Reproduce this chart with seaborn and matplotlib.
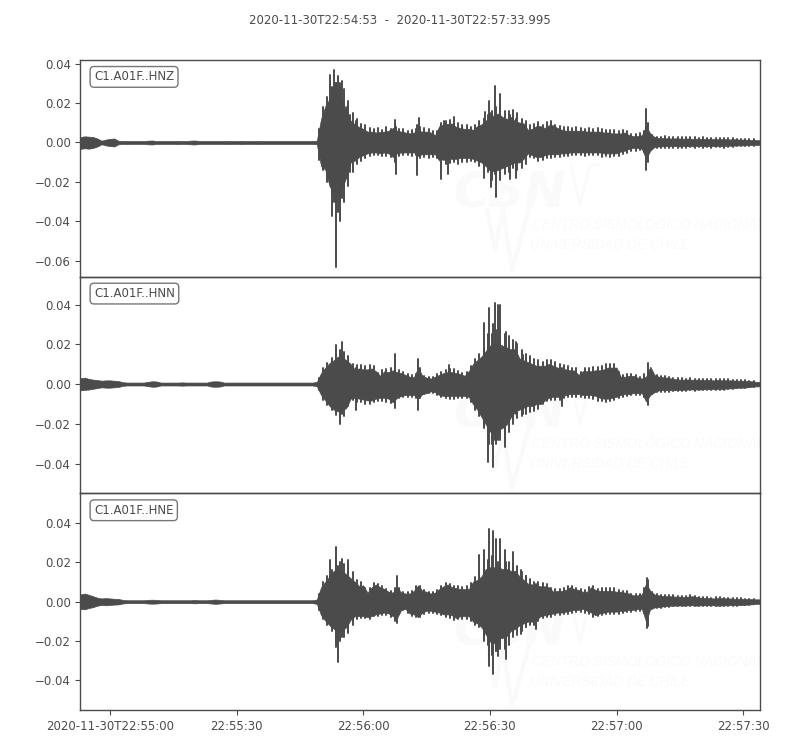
# Seismogram of three channels, drawn from envelopes
import numpy as np
import pandas as pd
import matplotlib
matplotlib.use("Agg")
import matplotlib.pyplot as plt
from matplotlib.lines import Line2D
import seaborn as sns

# Envelope per second since 22:54:53, in units of 0.001
hnz_up = [3.0,3.4,3.2,3.0,2.2,1.0,1.6,2.0,2.2,1.0,
          .8,.9,.8,.8,.8,.8,1.0,1.1,.8,.8,
          .8,.8,.8,.9,.8,.8,1.0,1.1,.9,.8,
          .8,.8,.8,.8,.8,.9,.8,.8,.9,.8,
          .8,.8,.9,.8,.8,.8,.8,.8,.8,.8,
          .8,.8,.8,.8,.8,.8,1.0,
          13,20,24,26,26,24,17,12,10,8.5,
          7.5,6,6,5.5,5.8,6,6.5,8,6.5,6,
          5.5,5,5.5,6.5,6,6,5.5,4,9,10,
          10,10.5,8.5,8,7.5,7.5,7,9,10,12,
          14,15,16,14,13,14,11.5,11,10.5,7,
          7.5,9,9,8,9.5,9.5,8,7,6.5,6.5,
          6.5,6.5,6.5,6,6,6,6,5.5,5.5,5,
          5,5,5.5,4,3.5,3.5,4,9,5,3,
          2.5,2.4,2.3,2.2,2.3,2.2,2.1,2.2,2,2.1,
          2,1.9,2,1.9,1.8,1.9,1.8,1.7,1.8,1.6,
          1.6,1.5,1.4,1.3,1.3]
hnz_lo = [-3.5,-3.2,-3.4,-3.0,-2.2,-1.0,-1.6,-2.0,-2.2,-1.0,
          -.8,-.9,-.8,-.8,-.8,-.8,-1.0,-1.1,-.8,-.8,
          -.8,-.8,-.8,-.9,-.8,-.8,-1.0,-1.1,-.9,-.8,
          -.8,-.8,-.8,-.8,-.8,-.9,-.8,-.8,-.9,-.8,
          -.8,-.8,-.9,-.8,-.8,-.8,-.8,-.8,-.8,-.8,
          -.8,-.8,-.8,-.8,-.8,-.8,-1.0,
          -13,-15,-24,-28,-28,-25,-19,-11,-10,-8,
          -7,-6,-5.5,-5.5,-6,-5.5,-6,-8,-6,-5.5,
          -5.5,-5.5,-5.5,-7,-6.5,-6.5,-6.5,-6.5,-10,-9,
          -9,-9,-9,-8.5,-8.5,-8.5,-9,-10,-11,-13,
          -15,-16,-15,-14,-13,-12,-11,-11,-9,-6,
          -7,-8,-8,-7,-6.5,-6.5,-6.5,-6,-6,-5.5,
          -5.5,-5.5,-5.5,-5.5,-5.5,-5.5,-5.5,-6,-6,-6,
          -6,-5,-4.5,-3.5,-3,-3,-3.5,-9,-4.5,-2.5,
          -2.2,-2.1,-2,-2.1,-2,-2.2,-2,-2,-2.1,-2,
          -2,-2.1,-2,-2,-1.9,-2.1,-1.8,-1.8,-1.7,-1.6,
          -1.6,-1.5,-1.4,-1.3,-1.3]

hnn_up = [3.2,3.5,2.8,2.4,2.2,1.8,2,2,1.8,1.6,
          1.0,.8,.8,.8,.8,.8,1.2,1.5,1.4,.8,
          .8,.8,.8,.8,.9,.8,.8,.8,.8,.8,
          .8,1.4,1.5,1.4,.8,.8,.8,.8,.8,.8,
          .8,.8,.8,.8,.8,.8,.8,.8,.8,.8,
          .8,.8,.8,.8,.8,.8,1.2,
          6,9,11.5,13,15,14.5,13,11,8,8.5,
          8,8,8.5,7,4.5,7,6.5,7.5,6.5,6,
          5,4,3.7,9,4.5,3.5,3,4,5,6,
          6.5,6.5,6,5.5,4.5,7,11,13,15,18,
          21,22,22,21,20,19,19,14,13,12,
          11,10,10,10,11,10,9,8.5,8,7.5,
          7.4,5,7,7,7,7.5,7.5,8,9,9,
          9,4,4,4.5,4.5,3.5,3,4,9.5,5,
          4,3.7,3.5,3,2.6,2.4,2.4,2.5,2.3,2.4,
          2.3,2.2,2.2,2,2.2,2,2.1,2,1.9,1.8,
          1.8,1.6,1.5,1.2,1.2]
hnn_lo = [-3.4,-3.2,-3,-2.6,-2.2,-1.8,-2,-2,-1.8,-1.6,
          -1.0,-.8,-.8,-.8,-.8,-.8,-1.2,-1.5,-1.4,-.8,
          -.8,-.8,-.8,-.8,-.9,-.8,-.8,-.8,-.8,-.8,
          -.8,-1.4,-1.5,-1.4,-.8,-.8,-.8,-.8,-.8,-.8,
          -.8,-.8,-.8,-.8,-.8,-.8,-.8,-.8,-.8,-.8,
          -.8,-.8,-.8,-.8,-.8,-.8,-1.2,
          -6,-9,-12,-14,-15,-14.5,-13,-8,-7.5,-8,
          -8.5,-9,-9,-8,-7.5,-7.5,-8,-10,-7.5,-6.5,
          -6,-6,-6,-8,-5.5,-5,-4,-4.5,-6,-6.5,
          -6.5,-6.5,-6.5,-6.5,-6.5,-7,-11,-14,-18,-22,
          -26,-26,-25,-24,-22,-18,-15,-14,-13,-12,
          -12,-11,-11,-9,-7.5,-7,-7,-7,-6,-5.5,
          -5.5,-5.5,-6,-6,-6,-6.5,-7.5,-8,-8,-7.5,
          -7,-6,-5.5,-5.5,-5,-5,-5,-9.5,-6,-4.5,
          -3.5,-3.4,-3.4,-3.4,-3.4,-3.2,-3.2,-3,-3,-3,
          -3,-2.8,-2.8,-2.8,-2.7,-2.7,-2.5,-2.4,-2.2,-2,
          -2,-1.8,-1.5,-1.3,-1.3]

hne_up = [4,4.5,3.8,3,2.2,1.8,2,1.8,1.6,1.5,
          1,.8,.8,.8,.8,.8,1,1.1,1,.8,
          .8,.8,.8,.8,.8,.8,.8,.9,.8,.8,
          .8,1.0,1.2,1.0,.8,.8,.8,.8,.8,.8,
          .8,.8,.8,.8,.8,.8,.8,.8,.8,.8,
          .8,.8,.8,.8,.8,.8,1.2,
          8,11,14,17,18,17,15,13,11,8.6,
          9,5,8,9.5,8,7,5.5,5,8,5,
          4.5,4.5,6,9,6,5.5,4.5,5,7,8.5,
          9.5,8,7.5,7,7,7,11,12,14,18,
          19,19,19,18,18,17,17,14,12,10,
          9.5,9,8.5,8.5,8,5.5,6,6,6.5,8,
          7,6.5,5.5,5.5,8,6.5,6,6,6,6,
          5.5,5.5,5,4.5,3.5,3.5,4,10,6,4,
          3.5,3.2,3,3,2.8,2.8,2.6,2.8,3,2.6,
          2.2,2,2,1.8,2,2,1.8,1.8,1.6,1.6,
          1.6,1.4,1.4,1.3,1.3]
hne_lo = [-4,-4.2,-3.5,-3,-2.2,-1.8,-2,-1.8,-1.6,-1.5,
          -1,-.8,-.8,-.8,-.8,-.8,-1,-1.1,-1,-.8,
          -.8,-.8,-.8,-.8,-.8,-.8,-.8,-.9,-.8,-.8,
          -.8,-1.0,-1.2,-1.0,-.8,-.8,-.8,-.8,-.8,-.8,
          -.8,-.8,-.8,-.8,-.8,-.8,-.8,-.8,-.8,-.8,
          -.8,-.8,-.8,-.8,-.8,-.8,-1.2,
          -7.5,-10.5,-13,-15,-17,-16,-14,-10,-8,-8,
          -8,-8.5,-8,-7,-6.5,-6,-6.5,-8,-9,-4.5,
          -4,-6.5,-7,-8.5,-6,-5,-5,-5.5,-6,-7,
          -7,-7.5,-9,-8,-8,-8,-11,-12,-14,-18,
          -22,-23,-20,-20,-19,-16,-15,-13,-12,-11,
          -11,-10,-8,-7.5,-7,-6.5,-6,-6,-5.5,-5,
          -4.5,-4.5,-4,-5,-6,-7.5,-6.5,-6,-5.5,-5.5,
          -5.5,-5,-5,-4.5,-4.5,-4,-4,-11,-4,-3.2,
          -3,-2.6,-2.4,-2.2,-2.2,-2.1,-2.2,-2,-2,-2.2,
          -2,-2,-2,-2,-2.2,-2.1,-2,-1.9,-1.9,-1.8,
          -1.8,-1.6,-1.5,-1.2,-1.2]

# Small teeth half way between the seconds, 57.5 to 159.5
hnz_mid_up = [18,23,27,30,30,27,21,15,12,9.5,
              9,7.5,7,7.5,6.5,8,7,9,7,7,
              6,6.5,7,8,7.5,7,6,6,10,11,
              11.5,9,10,9,9,8,9,11,12,14,
              16,18,18,16,16,13,15,12,11,9,
              9.5,10.5,9,10.5,11,9,8.5,8,8,7.5,
              8,7.5,7,7.5,7,7.5,7,6.5,6.5,6.5,
              6,6.5,6,4.5,4.5,5,6,10,4,3,
              3,3.2,2.8,3,2.8,2.6,3,2.6,2.8,2.4,
              2.6,2.4,2.5,2.2,2.4,2.4,2.1,2.2,2,2,
              1.8,1.9,1.6]
hnz_mid_lo = [-14,-20,-27,-30,-30,-30,-22,-15,-11,-9.5,
              -8,-7,-6.5,-6.5,-7,-7,-7.5,-10,-7,-6.5,
              -6.5,-7,-6.5,-8,-7.5,-8,-7.5,-8,-12,-11,
              -10.5,-10,-11,-10,-10,-9.5,-10,-12,-13,-15,
              -19,-18,-17,-16,-15,-13,-14,-13,-11,-7.5,
              -8,-9.5,-9,-8,-8,-7.5,-7.5,-7,-7,-6.5,
              -6.5,-6.5,-7,-6.5,-6.5,-6.5,-7.5,-7,-7.5,-7,
              -7,-6,-5.5,-4.5,-4.5,-4,-5,-10,-3.5,-3,
              -2.8,-2.6,-3,-2.6,-2.8,-2.6,-3,-2.5,-2.6,-2.5,
              -2.6,-2.4,-2.6,-2.4,-2.4,-2.6,-2.2,-2.2,-2,-2,
              -1.9,-1.8,-1.7]
hnn_mid_up = [8,10.5,13,15,17,16,14,10,9.5,9.5,
              9,9.5,9,5.5,7,7.5,8,9,7,6,
              5,4.5,5,8,4,3.5,3.5,5,6,7,
              7.5,7.5,6.5,5.5,6,9,12.5,15,18,22,
              25,27,26,25,24,22,20,17,15,14,
              12.5,12,11,12,12,11,10,9.5,9,8,
              8,6,8,8,8.5,8.5,9,10,10,10,
              6,4.5,5,5,4.5,3.5,5,10.5,5.5,4.5,
              4.2,4,3.6,3.2,3,2.8,2.7,2.8,2.6,2.7,
              2.5,2.6,2.4,2.4,2.4,2.3,2.3,2.2,2,1.9,
              1.8,1.7,1.4]
hnn_mid_lo = [-8,-10.5,-13,-15.5,-16,-16,-11,-8,-9,-9,
              -10,-10,-9,-8.5,-8.5,-9,-9.5,-9,-7,-6.5,
              -6.5,-6.5,-7,-7,-5,-4.5,-4.5,-5.5,-6.5,-7,
              -7.5,-7.5,-7,-7,-7,-9,-13,-16,-21,-26,
              -30,-30,-28,-27,-24,-20,-17,-16,-15,-14,
              -13.5,-12.5,-10,-8.5,-8,-8,-8,-7,-6.5,-6.5,
              -6.5,-6.5,-7,-7,-7.5,-8.5,-8.5,-9,-8.5,-8,
              -7,-6.5,-6,-5.5,-5.5,-5.5,-6.5,-10.5,-5,-4,
              -4,-3.8,-3.8,-3.6,-3.5,-3.4,-3.4,-3.2,-3.4,-3.1,
              -3.2,-3,-3,-3,-2.8,-2.8,-2.6,-2.5,-2.2,-2.1,
              -2,-1.7,-1.4]
hne_mid_up = [10,13,16,20,20,19,17,15,11,10,
              7,7,9.5,9,8,6.5,5.5,7,7,5,
              5,5.5,8,8,6,5,5,6,8,9.5,
              9,8,8,7.5,8,9.5,12.5,14,17,21,
              23,22,22,22,20,19,18,15,13,11.5,
              10,10,9.5,9,7,6.5,6.5,7,8,8,
              7,6.5,6,7.5,8,6.5,7,7,7,7,
              6,5.5,5.5,4,4,4,7,11,5,4,
              3.6,3.4,3.2,3.2,3,3,3,3.2,2.8,2.5,
              2.2,2.2,2.1,2.2,2.2,2.1,2,1.9,1.8,1.8,
              1.6,1.6,1.4]
hne_mid_lo = [-9,-12,-15,-18,-20,-18,-16,-12,-9,-8.5,
              -8.5,-9,-7.5,-7.5,-7,-7,-8,-10,-6,-4,
              -5.5,-7.5,-8,-8,-6,-5.5,-5.5,-6,-7,-8,
              -8.5,-9.5,-9,-9,-9,-10,-12,-13,-17,-22,
              -27,-25,-24,-23,-22,-18,-17,-15,-13,-12,
              -12,-10,-8.5,-8,-8,-7,-7,-6.5,-6,-5.5,
              -5,-5,-5.5,-6.5,-8,-7.5,-7,-6.5,-6.5,-6.5,
              -6,-5.5,-5,-5,-4.5,-4.5,-5.5,-12.5,-3.6,-3.2,
              -3,-2.6,-2.5,-2.4,-2.4,-2.4,-2.2,-2.4,-2.2,-2.2,
              -2.2,-2.2,-2.2,-2.4,-2.3,-2.2,-2,-2,-2,-1.9,
              -1.7,-1.6,-1.3]

# Single peaks that stick out of the envelope
hnz_spike_t = [56.5,59.2,59.6,60.1,60.6,61,61.4,62,63.1,63.8,65.3,74.4,74.8,79.8,80.1,85.5,86.2,87,88.4,
               95.5,95.8,96.9,97.2,98.1,98.4,99.3,101.7,102.5,103.2,134]
hnz_spike_hi = [7,34,28,36.5,30,33.5,28,31,18,14,11,11.5,8,9,12.5,9,11,9,13,
                12,15.5,21,15,28.5,16,24.5,14,16.5,12,17]
hnz_spike_lo = [-9,-20,-37,-30,-63,-35,-40,-28,-18,-15,-9,-6,-16,-16.5,-7,-18.5,-9,-16,-9,
                -18,-11,-14,-22.5,-16,-27.5,-19,-18.5,-12,-18,-14]

hnn_spike_t = [56.5,60.6,61.4,62,65.3,74.4,80,87.4,95.5,96.5,96.9,97.7,98.1,98.9,99.5,100.5,100.9,103.2,104.8,106.4,114]
hnn_spike_hi = [3,19.6,15,21,8,15,12.6,9.4,30.6,25,38,30,41,40,40,22,26,21,14.6,13,8]
hnn_spike_lo = [-3,-14,-20,-15,-13,-12,-13,-6,-22,-39,-30,-41.5,-28,-28,-25,-31.5,-20,-15,-15,-12,-11]

hne_spike_t = [56.5,59,60.6,61.1,62,63.4,75,94.5,95.7,96.8,96.9,97.7,98.5,98.9,99.5,100.6,100.9,102.5,104.4,105.6,108,134.2]
hne_spike_hi = [4,21,28,18,21.5,21,13,23.7,26,37,20,36,32,20,31.6,26,20,25,16,12.8,9,12]
hne_spike_lo = [-4,-11,-23,-30.6,-18,-15,-11,-12,-20,-28,-32.6,-36.8,-25,-27.5,-22,-24,-29,-16,-16.6,-13,-14,-13.6]

channels = ["C1.A01F..HNZ", "C1.A01F..HNN", "C1.A01F..HNE"]
ylims = [(-0.068, 0.0418), (-0.055, 0.054), (-0.055, 0.055)]
yticks = [[-0.06, -0.04, -0.02, 0, 0.02, 0.04],
          [-0.04, -0.02, 0, 0.02, 0.04],
          [-0.04, -0.02, 0, 0.02, 0.04]]
tick_seconds = [7, 37, 67, 97, 127, 157]
tick_labels = ["2020-11-30T22:55:00", "22:55:30", "22:56:00", "22:56:30", "22:57:00", "22:57:30"]
title = "2020-11-30T22:54:53  -  2020-11-30T22:57:33.995"
end_seconds = 160.995

gray = "#4b4b4b"
mark = "#fafafa"

sns.set_style("ticks")
plt.rcParams["font.family"] = "DejaVu Sans"

fig, axes = plt.subplots(3, 1, figsize=(8, 7.5), dpi=100, sharex=True)
fig.subplots_adjust(left=0.1006, right=0.95, top=0.92, bottom=0.0533, hspace=0)

traces = [(hnz_up, hnz_lo, hnz_mid_up, hnz_mid_lo, hnz_spike_t, hnz_spike_hi, hnz_spike_lo),
          (hnn_up, hnn_lo, hnn_mid_up, hnn_mid_lo, hnn_spike_t, hnn_spike_hi, hnn_spike_lo),
          (hne_up, hne_lo, hne_mid_up, hne_mid_lo, hne_spike_t, hne_spike_hi, hne_spike_lo)]

for i, ax in enumerate(axes):
    up, lo, mid_up, mid_lo, sp_t, sp_hi, sp_lo = traces[i]
    t = np.arange(len(up))

    # the solid part sits a bit inside the envelope so the teeth show
    ax.fill_between(t, np.array(lo) * 0.92 / 1000, np.array(up) * 0.92 / 1000, color=gray, lw=0.5, zorder=3)

    # one short vertical line per peak or tooth
    all_t = np.concatenate([np.arange(len(mid_up)) + 57.5, sp_t])
    all_hi = np.concatenate([mid_up, sp_hi])
    all_lo = np.concatenate([mid_lo, sp_lo])
    peaks = pd.DataFrame({
        "t": np.repeat(all_t, 2),
        "amp": np.ravel(np.column_stack([all_hi, all_lo])) / 1000,
        "peak": np.repeat(np.arange(len(all_t)), 2),
    })
    sns.lineplot(data=peaks, x="t", y="amp", units="peak", estimator=None, sort=False,
                 color=gray, lw=1.4, ax=ax, zorder=3)

    ax.set_xlim(0, end_seconds)
    ax.set_ylim(*ylims[i])
    ax.set_yticks(yticks[i])
    ax.set_yticklabels([f"{v:.2f}".replace("-", "\u2212") for v in yticks[i]], color=gray, fontsize=8.5)
    ax.set_xlabel("")
    ax.set_ylabel("")
    ax.tick_params(axis="y", color=gray, length=3.5, width=0.8, pad=3.5)
    for side in ax.spines.values():
        side.set_visible(True)
        side.set_color(gray)
        side.set_linewidth(1.0)
    ax.text(0.0199, 0.922, channels[i], transform=ax.transAxes, va="center", ha="left",
            color=gray, fontsize=8.45, zorder=5,
            bbox=dict(boxstyle="round,pad=0.33", fc="white", ec="#777777", lw=1.0))

    if i < 2:
        ax.tick_params(axis="x", length=0, labelbottom=False)

    # see-through panel so the watermark behind it shows
    ax.patch.set_alpha(0)
    ax.set_zorder(2)

axes[2].set_xticks(tick_seconds)
axes[2].set_xticklabels(tick_labels, color=gray, fontsize=8.5)
axes[2].tick_params(axis="x", color=gray, length=3.5, width=0.8, pad=3.5)

fig.text(0.5, 1 - 20 / 750, title, ha="center", va="center", color=gray, fontsize=8.45)

# Faint CSN watermark, once per panel
for offset in [0, 219, 437]:
    def fx(px):
        return px / 800
    def fy(py):
        return 1 - (py + offset) / 750
    fig.text(fx(453), fy(208), "CSN", color=mark, fontsize=36, fontweight="bold", style="italic", zorder=0)
    fig.text(fx(532), fy(229), "CENTRO SISMOLÓGICO NACIONAL", color=mark, family="Liberation Sans", fontsize=9.8, style="italic", zorder=0)
    fig.text(fx(530), fy(249), "UNIVERSIDAD DE CHILE", color=mark, family="Liberation Sans", fontsize=9.8, style="italic", zorder=0)
    for xs, ys, w in [([571, 580, 590, 600], [165, 205, 165, 165], 2),
                      ([487, 495, 503, 512, 529], [210, 250, 210, 270, 208], 3)]:
        fig.add_artist(Line2D([fx(v) for v in xs], [fy(v) for v in ys], color=mark, lw=w, zorder=0))

plt.savefig("out.png", dpi=100)
